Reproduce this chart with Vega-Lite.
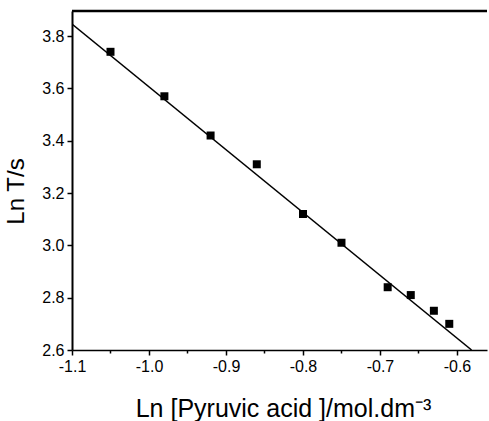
{
  "$schema": "https://vega.github.io/schema/vega-lite/v6.json",
  "width": 415,
  "height": 339,
  "autosize": {"type": "none"},
  "padding": {"left": 72, "top": 11, "right": 2, "bottom": 71},
  "background": "white",
  "config": {"view": {"stroke": null}, "font": "Liberation Sans"},
  "datasets": {
    "points": [
      {"x": -1.05, "y": 3.74},
      {"x": -0.98, "y": 3.57},
      {"x": -0.92, "y": 3.42},
      {"x": -0.86, "y": 3.31},
      {"x": -0.80, "y": 3.12},
      {"x": -0.75, "y": 3.01},
      {"x": -0.69, "y": 2.84},
      {"x": -0.66, "y": 2.81},
      {"x": -0.63, "y": 2.75},
      {"x": -0.61, "y": 2.70}
    ],
    "fit": [
      {"x": -1.1, "y": 3.846},
      {"x": -0.581, "y": 2.6}
    ]
  },
  "layer": [
    {
      "data": {"name": "fit"},
      "mark": {"type": "line", "color": "black", "strokeWidth": 1.5, "clip": true},
      "encoding": {
        "x": {
          "field": "x", "type": "quantitative",
          "scale": {"domain": [-1.1, -0.561], "nice": false, "zero": false},
          "axis": {
            "values": [-1.1, -1.05, -1.0, -0.95, -0.9, -0.85, -0.8, -0.75, -0.7, -0.65, -0.6],
            "labelExpr": "abs(datum.value*10 - round(datum.value*10)) > 0.01 ? '' : replace(format(datum.value, '.1f'), '−', '-')",
            "title": "Ln [Pyruvic acid ]/mol.dm⁻³",
            "titleFontSize": 25, "titleFontWeight": "normal", "titleColor": "black",
            "titleBaseline": "alphabetic", "titleX": 211, "titleY": 66,
            "labelFontSize": 16, "labelColor": "black", "labelPadding": 3,
            "labelFlush": false, "labelOverlap": false,
            "tickColor": "black", "tickWidth": 1.5,
            "tickSize": {"condition": {"test": "abs(datum.value*10 - round(datum.value*10)) > 0.01", "value": 3}, "value": 5},
            "domainColor": "black", "domainWidth": 1.5,
            "grid": false
          }
        },
        "y": {
          "field": "y", "type": "quantitative",
          "scale": {"domain": [2.6, 3.896], "nice": false, "zero": false},
          "axis": {
            "values": [2.6, 2.7, 2.8, 2.9, 3.0, 3.1, 3.2, 3.3, 3.4, 3.5, 3.6, 3.7, 3.8],
            "labelExpr": "abs(datum.value*5 - round(datum.value*5)) > 0.01 ? '' : format(datum.value, '.1f')",
            "title": "Ln T/s",
            "titleFontSize": 24, "titleFontWeight": "normal", "titleColor": "black",
            "titleX": -44, "titleY": 180,
            "labelFontSize": 16, "labelColor": "black", "labelPadding": 3,
            "labelFlush": false, "labelOverlap": false,
            "tickColor": "black", "tickWidth": 1.5,
            "tickSize": {"condition": {"test": "abs(datum.value*5 - round(datum.value*5)) > 0.01", "value": 3}, "value": 5},
            "domainColor": "black", "domainWidth": 2,
            "grid": false
          }
        }
      }
    },
    {
      "data": {"name": "points"},
      "mark": {"type": "point", "shape": "square", "filled": true, "color": "black", "size": 64, "opacity": 1},
      "encoding": {
        "x": {"field": "x", "type": "quantitative"},
        "y": {"field": "y", "type": "quantitative"}
      }
    },
    {
      "data": {"values": [{}]},
      "mark": {"type": "rule", "color": "black", "strokeWidth": 2.5},
      "encoding": {"y": {"datum": 3.896}}
    }
  ]
}
